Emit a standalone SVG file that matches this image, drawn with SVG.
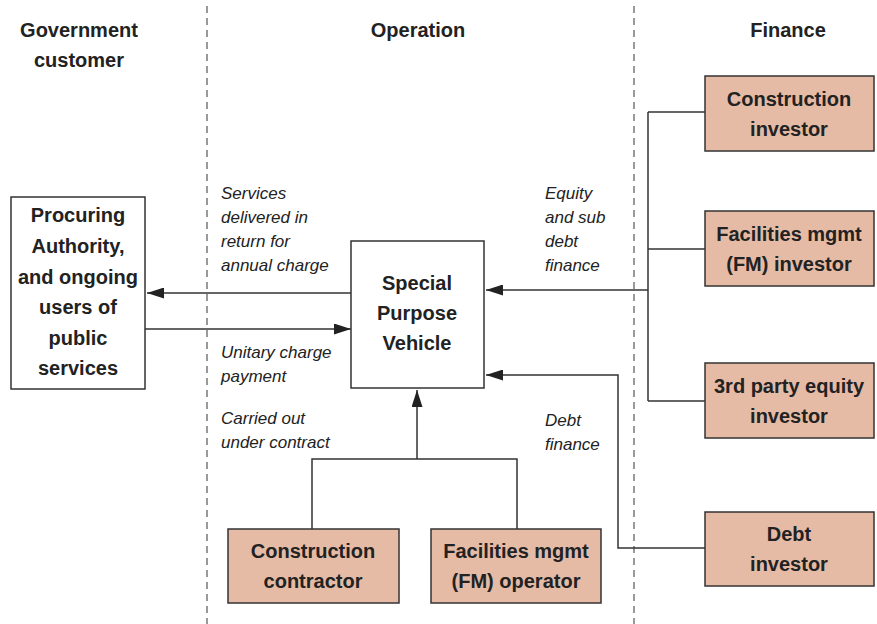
<svg xmlns="http://www.w3.org/2000/svg" width="877" height="624" viewBox="0 0 877 624">
<style>
.hdr{font-family:"Liberation Sans",Arial,sans-serif;font-weight:bold;font-size:20px;fill:#222;text-anchor:middle}
.bt{font-family:"Liberation Sans",Arial,sans-serif;font-weight:bold;font-size:20px;fill:#222;text-anchor:middle;dominant-baseline:central}
.lb{font-family:"Liberation Sans",Arial,sans-serif;font-style:italic;font-size:17px;fill:#222;dominant-baseline:central}
.wbox{fill:#fff;stroke:#333;stroke-width:1.5}
.pbox{fill:#E6BBA6;stroke:#333;stroke-width:1.5}
.ln{fill:none;stroke:#333;stroke-width:1.5}
.dash{stroke:#555;stroke-width:1.2;stroke-dasharray:7,5}
</style>
<defs>
<marker id="ah" viewBox="0 0 17 11" refX="17" refY="5.5" markerWidth="17" markerHeight="11" markerUnits="userSpaceOnUse" orient="auto">
<path d="M0,0 L17,5.5 L0,11 z" fill="#222"/>
</marker>
</defs>
<rect width="877" height="624" fill="#fff"/>
<g id="dividers">
<line class="dash" x1="207" y1="6" x2="207" y2="624"/>
<line class="dash" x1="634" y1="6" x2="634" y2="624"/>
</g>
<g id="headers">
<text class="hdr" x="79" y="37">Government</text>
<text class="hdr" x="79" y="67">customer</text>
<text class="hdr" x="418" y="37">Operation</text>
<text class="hdr" x="788" y="37">Finance</text>
</g>
<g id="connectors">
<line class="ln" x1="351" y1="293" x2="147" y2="293" marker-end="url(#ah)"/>
<line class="ln" x1="145" y1="329" x2="351" y2="329" marker-end="url(#ah)"/>
<polyline class="ln" points="648,112 648,401"/>
<line class="ln" x1="648" y1="112" x2="705" y2="112"/>
<line class="ln" x1="648" y1="249" x2="705" y2="249"/>
<line class="ln" x1="648" y1="401" x2="705" y2="401"/>
<line class="ln" x1="648" y1="290" x2="486" y2="290" marker-end="url(#ah)"/>
<polyline class="ln" points="705,548 618,548 618,375 486,375" marker-end="url(#ah)"/>
<polyline class="ln" points="312,529 312,459 517,459 517,529"/>
<line class="ln" x1="417" y1="459" x2="417" y2="390" marker-end="url(#ah)"/>
</g>
<g id="labels">
<text class="lb" x="221" y="193">Services</text>
<text class="lb" x="221" y="217">delivered in</text>
<text class="lb" x="221" y="241">return for</text>
<text class="lb" x="221" y="265">annual charge</text>
<text class="lb" x="221" y="352">Unitary charge</text>
<text class="lb" x="221" y="376">payment</text>
<text class="lb" x="221" y="418">Carried out</text>
<text class="lb" x="221" y="442">under contract</text>
<text class="lb" x="545" y="193">Equity</text>
<text class="lb" x="545" y="217">and sub</text>
<text class="lb" x="545" y="241">debt</text>
<text class="lb" x="545" y="265">finance</text>
<text class="lb" x="545" y="420">Debt</text>
<text class="lb" x="545" y="444">finance</text>
</g>
<g id="procuring-authority">
<rect class="wbox" x="11" y="197" width="134" height="192"/>
<text class="bt" x="78" y="215">Procuring</text>
<text class="bt" x="78" y="246">Authority,</text>
<text class="bt" x="78" y="277">and ongoing</text>
<text class="bt" x="78" y="307">users of</text>
<text class="bt" x="78" y="338">public</text>
<text class="bt" x="78" y="368">services</text>
</g>
<g id="spv">
<rect class="wbox" x="351" y="241" width="133" height="147"/>
<text class="bt" x="417" y="283">Special</text>
<text class="bt" x="417" y="313">Purpose</text>
<text class="bt" x="417" y="343">Vehicle</text>
</g>
<g id="construction-contractor">
<rect class="pbox" x="228" y="529" width="171" height="74"/>
<text class="bt" x="313" y="551">Construction</text>
<text class="bt" x="313" y="581">contractor</text>
</g>
<g id="fm-operator">
<rect class="pbox" x="431" y="529" width="170" height="74"/>
<text class="bt" x="516" y="551">Facilities mgmt</text>
<text class="bt" x="516" y="581">(FM) operator</text>
</g>
<g id="construction-investor">
<rect class="pbox" x="705" y="76" width="169" height="75"/>
<text class="bt" x="789" y="99">Construction</text>
<text class="bt" x="789" y="129">investor</text>
</g>
<g id="fm-investor">
<rect class="pbox" x="705" y="211" width="169" height="75"/>
<text class="bt" x="789" y="234">Facilities mgmt</text>
<text class="bt" x="789" y="264">(FM) investor</text>
</g>
<g id="third-party-investor">
<rect class="pbox" x="705" y="363" width="169" height="75"/>
<text class="bt" x="789" y="386">3rd party equity</text>
<text class="bt" x="789" y="416">investor</text>
</g>
<g id="debt-investor">
<rect class="pbox" x="705" y="512" width="169" height="74"/>
<text class="bt" x="789" y="534">Debt</text>
<text class="bt" x="789" y="564">investor</text>
</g>
</svg>
